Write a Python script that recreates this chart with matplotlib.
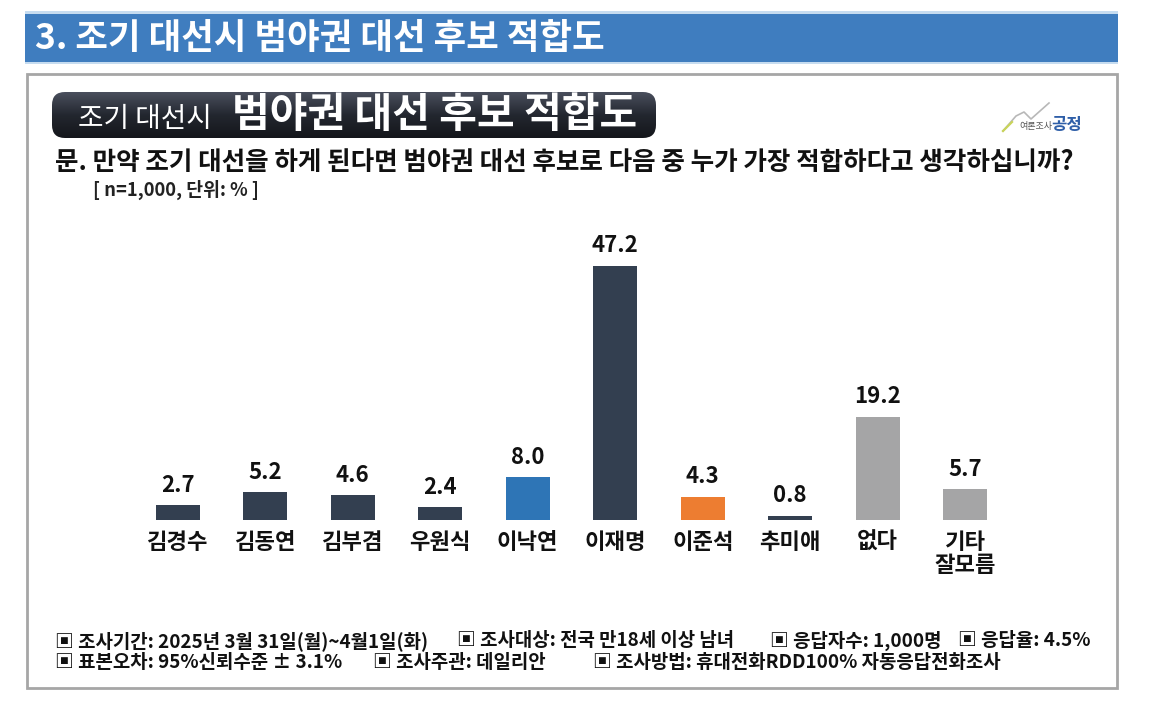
import matplotlib
matplotlib.use("Agg")
import matplotlib.pyplot as plt
import numpy as np
from matplotlib.patches import Rectangle, FancyBboxPatch
from matplotlib.colors import LinearSegmentedColormap

plt.rcParams['font.family'] = ['Noto Sans CJK KR', 'DejaVu Sans']

# ---- data ----
categories = ['김경수', '김동연', '김부겸', '우원식', '이낙연', '이재명', '이준석', '추미애', '없다', '기타\n잘모름']
values = [2.7, 5.2, 4.6, 2.4, 8.0, 47.2, 4.3, 0.8, 19.2, 5.7]
bar_colors = ['#333f50', '#333f50', '#333f50', '#333f50', '#2e75b6', '#333f50',
              '#ed7d31', '#333f50', '#a5a5a6', '#a5a5a6']

header_title = '3. 조기 대선시 범야권 대선 후보 적합도'
box_small = '조기 대선시'
box_big = '범야권 대선 후보 적합도'
question = '문. 만약 조기 대선을 하게 된다면 범야권 대선 후보로 다음 중 누가 가장 적합하다고 생각하십니까?'
sample_note = '[ n=1,000, 단위: % ]'
footer_line1 = ['▣ 조사기간: 2025년 3월 31일(월)~4월1일(화)', '▣ 조사대상: 전국 만18세 이상 남녀',
                '▣ 응답자수: 1,000명', '▣ 응답율: 4.5%']
footer_line2 = ['▣ 표본오차: 95%신뢰수준 ± 3.1%', '▣ 조사주관: 데일리안', '▣ 조사방법: 휴대전화RDD100% 자동응답전화조사']

W, H = 1155, 710
fig = plt.figure(figsize=(W / 100, H / 100), dpi=100)
fig.patch.set_facecolor('white')

# background / decoration axes in pixel coordinates
bg = fig.add_axes([0, 0, 1, 1])
bg.axis('off')

# header band
bg.add_patch(Rectangle((25, 11), 1093, 53, facecolor='#c6dcf0', edgecolor='none'))
bg.add_patch(Rectangle((25, 14), 1093, 48, facecolor='#3f7dbf', edgecolor='none'))
bg.text(35, 38, header_title, color='white', fontsize=25.5, fontweight='bold', va='center', ha='left')

# outer frame
bg.add_patch(Rectangle((27, 74), 1090, 614, facecolor='white', edgecolor='#a6a6a6', linewidth=2))

# dark rounded title box with gradient
box = FancyBboxPatch((52, 92), 604, 46, boxstyle='round,pad=0,rounding_size=13',
                     facecolor='none', edgecolor='none')
bg.add_patch(box)
grad = np.linspace(0, 1, 100).reshape(-1, 1)
cmap = LinearSegmentedColormap.from_list('g', ['#4a4f5d', '#23272f', '#14161b'])
im = bg.imshow(grad, extent=(52, 656, 138, 92), cmap=cmap, aspect='auto', zorder=2)
im.set_clip_path(box)
bg.set_xlim(0, W)
bg.set_ylim(H, 0)
bg.text(78, 119, box_small, color='white', fontsize=20, fontweight='medium', va='center', ha='left', zorder=3)
bg.text(232, 115, box_big, color='white', fontsize=29.5, fontweight='bold', va='center', ha='left', zorder=3)

# logo
bg.plot([1003, 1016, 1024, 1031, 1049], [131, 116, 112, 119, 103], color='#b8b8b8', lw=1.2, zorder=3)
bg.plot([1003, 1012], [131, 122], color='#c9d45a', lw=1.6, zorder=3)
bg.text(1019, 127, '여론조사', color='#555555', fontsize=6.5, va='center', ha='left')
bg.text(1051, 125, '공정', color='#2f5fa8', fontsize=12, fontweight='bold', va='center', ha='left')

# question
bg.text(55, 162, question, color='#111111', fontsize=18.4, fontweight='bold', va='center', ha='left')
bg.text(93, 190, sample_note, color='#222222', fontsize=13.2, fontweight='bold', va='center', ha='left')

# footer
for txt, x in zip(footer_line1, [55, 457, 770, 958]):
    bg.text(x, 641, txt, color='#111111', fontsize=13.6, fontweight='bold', va='center', ha='left')
for txt, x in zip(footer_line2, [55, 373, 593]):
    bg.text(x, 663, txt, color='#111111', fontsize=13.6, fontweight='bold', va='center', ha='left')

# bar chart axes
left = 134 / W
width = 875 / W
bottom = (H - 520) / H
ymax = 50
height = ymax * 5.39 / H
ax = fig.add_axes([left, bottom, width, height])
ax.set_facecolor('none')
x = np.arange(len(categories))
ax.bar(x, values, width=0.5, color=bar_colors, zorder=3)
ax.set_xlim(-0.5, len(categories) - 0.5)
ax.set_ylim(0, ymax)
for xi, v in zip(x, values):
    ax.annotate(f'{v:.1f}', (xi, v), xytext=(0, 6), textcoords='offset points',
                ha='center', va='bottom', fontsize=16, fontweight='bold', color='#111111')
ax.set_xticks(x)
ax.set_xticklabels(categories, fontsize=16, fontweight='bold', color='#111111', linespacing=1.0, va='top')
ax.tick_params(axis='x', length=0, pad=8)
ax.set_yticks([])
for s in ax.spines.values():
    s.set_visible(False)

fig.savefig('out.png', dpi=100, facecolor='white')
